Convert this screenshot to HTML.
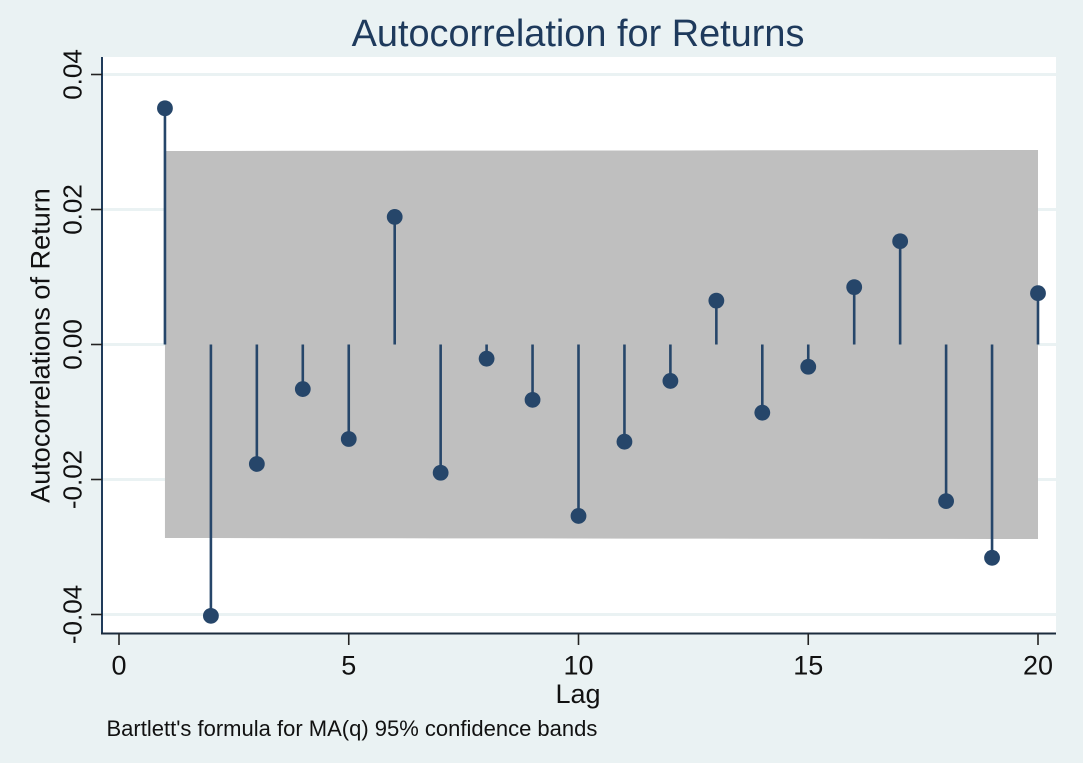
<!DOCTYPE html>
<html lang="en">
<head>
<meta charset="utf-8">
<title>Autocorrelation for Returns</title>
<style>
html,body{margin:0;padding:0;background:#eaf2f3;}
svg{display:block;font-family:"Liberation Sans",Arial,sans-serif;}
</style>
</head>
<body>
<svg id="chart" xmlns="http://www.w3.org/2000/svg" width="1083" height="763" viewBox="0 0 1083 763"></svg>
<script>
const lags = [1,2,3,4,5,6,7,8,9,10,11,12,13,14,15,16,17,18,19,20];
const autocorrelations = [0.0350,-0.0402,-0.0177,-0.0066,-0.0140,0.0189,-0.0190,-0.0021,-0.0082,-0.0254,-0.0144,-0.0054,0.0065,-0.0101,-0.0033,0.0085,0.0153,-0.0232,-0.0316,0.0076];
const bandUpper = [0.02867,0.02867,0.02868,0.02870,0.02870,0.02871,0.02872,0.02873,0.02873,0.02874,0.02875,0.02875,0.02876,0.02877,0.02877,0.02878,0.02879,0.02880,0.02881,0.02881];
const bandLower = [-0.02867,-0.02867,-0.02868,-0.02870,-0.02870,-0.02871,-0.02872,-0.02873,-0.02873,-0.02874,-0.02875,-0.02875,-0.02876,-0.02877,-0.02877,-0.02878,-0.02879,-0.02880,-0.02881,-0.02881];
const yTicks = [0.04,0.02,0,-0.02,-0.04];
const yTickLabels = ["0.04","0.02","0.00","-0.02","-0.04"];
const xTicks = [0,5,10,15,20];
const xTickLabels = ["0","5","10","15","20"];

const NS = "http://www.w3.org/2000/svg";
const svg = document.getElementById("chart");
const NAVY = "#26466a";
const INK = "#111111";
const xScale = v => 119 + v * 45.95;
const yScale = v => 344.5 - v * 6750;

function make(tag, attrs, text) {
  const el = document.createElementNS(NS, tag);
  for (const k in attrs) el.setAttribute(k, attrs[k]);
  if (text !== undefined) el.textContent = text;
  svg.appendChild(el);
  return el;
}

// plot region
const plotArea = make("rect", {x:102, y:57, width:954, height:576.5, fill:"#ffffff"});



// gridlines
yTicks.forEach((t, i) => {
  const g = make("line", {x1:102, x2:1056, y1:yScale(t), y2:yScale(t), stroke:"#eaf2f3", "stroke-width":3});
  
  
});

// confidence band
const upperPts = lags.map((l, i) => xScale(l) + "," + yScale(bandUpper[i]));
const lowerPts = lags.map((l, i) => xScale(l) + "," + yScale(bandLower[i])).reverse();
const band = make("polygon", {points: upperPts.concat(lowerPts).join(" "), fill:"#bfbfbf"});



// stems and markers
lags.forEach((l, i) => {
  const stem = make("line", {x1:xScale(l), x2:xScale(l), y1:yScale(0), y2:yScale(autocorrelations[i]), stroke:NAVY, "stroke-width":2.6});
  
  
  const dot = make("circle", {cx:xScale(l), cy:yScale(autocorrelations[i]), r:7.9, fill:NAVY});
  
  
});

// axes
const yAxis = make("line", {x1:102, x2:102, y1:57, y2:634.5, stroke:"#1f3b5a", "stroke-width":2});


const xAxis = make("line", {x1:101, x2:1056, y1:633.5, y2:633.5, stroke:"#1b2b3c", "stroke-width":2});



yTicks.forEach((t, i) => {
  const y = yScale(t);
  const tick = make("line", {x1:91, x2:102, y1:y, y2:y, stroke:"#222222", "stroke-width":1.6});
  
  
  const label = make("text", {x:0, y:0, transform:"translate(81.7," + y + ") rotate(-90)", "text-anchor":"middle", "font-size":26, fill:INK}, yTickLabels[i]);
  
  
});

xTicks.forEach((t, i) => {
  const x = xScale(t);
  const tick = make("line", {x1:x, x2:x, y1:633.5, y2:645, stroke:"#222222", "stroke-width":1.6});
  
  
  const label = make("text", {x:x, y:674.5, "text-anchor":"middle", "font-size":27, fill:INK}, xTickLabels[i]);
  
  
});

// titles
const title = make("text", {x:578, y:46, "text-anchor":"middle", "font-size":37.9, fill:"#1e3a5c"}, "Autocorrelation for Returns");


const yTitle = make("text", {x:0, y:0, transform:"translate(49.5,345.5) rotate(-90)", "text-anchor":"middle", "font-size":27.1, fill:INK}, "Autocorrelations of Return");


const xTitle = make("text", {x:578, y:703, "text-anchor":"middle", "font-size":27, fill:INK}, "Lag");


const note = make("text", {x:106.5, y:736, "font-size":22, fill:INK}, "Bartlett's formula for MA(q) 95% confidence bands");


</script>
</body>
</html>
